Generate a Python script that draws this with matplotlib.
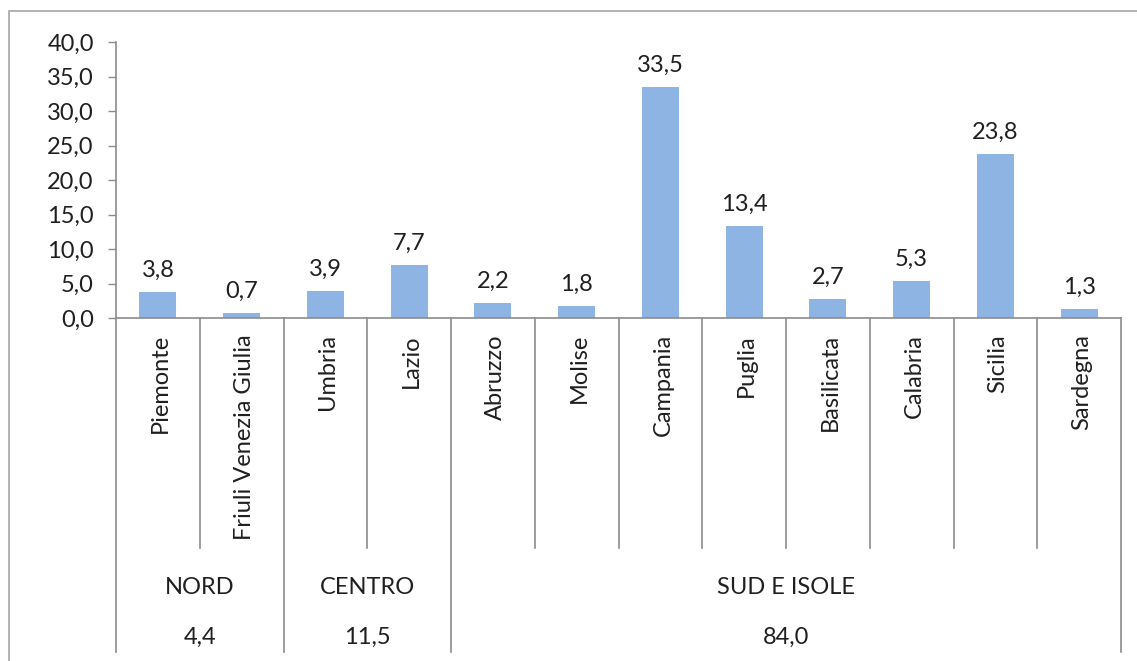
import numpy as np
import matplotlib.pyplot as plt
from matplotlib.transforms import blended_transform_factory
from matplotlib.patches import Rectangle

plt.rcParams['font.family'] = ['Lato', 'DejaVu Sans']

regioni = ['Piemonte', 'Friuli Venezia Giulia', 'Umbria', 'Lazio', 'Abruzzo',
           'Molise', 'Campania', 'Puglia', 'Basilicata', 'Calabria', 'Sicilia',
           'Sardegna']
valori = [3.8, 0.7, 3.9, 7.7, 2.2, 1.8, 33.5, 13.4, 2.7, 5.3, 23.8, 1.3]
gruppi = ['NORD', 'CENTRO', 'SUD E ISOLE']
gruppi_n = [2, 2, 8]
gruppi_val = [4.4, 11.5, 84.0]

def fmt(v):
    return ('%.1f' % v).replace('.', ',')

grigio = '#8c8c8c'
testo = '#1f1f1f'
fs = 17

fig = plt.figure(figsize=(11.37, 6.61), dpi=100)
ax = fig.add_axes([116/1137, 1-318/661, (1121-116)/1137, 276/661])

x = np.arange(len(regioni))
ax.bar(x, valori, width=0.44, color='#8eb4e3')
for xi, v in zip(x, valori):
    ax.annotate(fmt(v), (xi, v), xytext=(0, 8), textcoords='offset points',
                ha='center', va='bottom', fontsize=fs, color=testo)

ax.set_xlim(-0.5, len(regioni) - 0.5)
ax.set_ylim(0, 40)
ax.set_yticks(np.arange(0, 41, 5))
ax.set_yticklabels([fmt(t) for t in np.arange(0, 41, 5)], fontsize=fs, color=testo)
ax.tick_params(axis='y', length=6, color=grigio, width=1, pad=10)
ax.set_xticks([])
for s in ['top', 'right']:
    ax.spines[s].set_visible(False)
for s in ['left', 'bottom']:
    ax.spines[s].set_color(grigio)
    ax.spines[s].set_linewidth(1.2)

tr = blended_transform_factory(ax.transData, fig.transFigure)
y_axis = 1 - 318/661
y_short = 1 - 548/661
y_long = 1 - 652/661

# separatori tra le categorie
confini = np.cumsum([0] + gruppi_n) - 0.5
for k in range(len(regioni) + 1):
    pos = k - 0.5
    y_end = y_long if pos in confini else y_short
    ax.plot([pos, pos], [y_axis, y_end], color=grigio, lw=1.2,
            transform=tr, clip_on=False)

for xi, nome in zip(x, regioni):
    ax.text(xi + 0.03, 1 - 334/661, nome, rotation=90, ha='center', va='top',
            fontsize=fs, color=testo, transform=tr)

start = 0
for g, n, gv in zip(gruppi, gruppi_n, gruppi_val):
    c = start + (n - 1) / 2
    ax.text(c, 1 - 587/661, g, ha='center', va='center', fontsize=fs,
            color=testo, transform=tr)
    ax.text(c, 1 - 637/661, fmt(gv), ha='center', va='center', fontsize=fs,
            color=testo, transform=tr)
    start += n

# cornice del grafico
fig.patches.append(Rectangle((9/1137, -0.1), 1.2, 1 - 11/661 + 0.1,
                             transform=fig.transFigure, fill=False,
                             edgecolor='#a6a6a6', lw=1.2))

plt.savefig('out.png', dpi=100)
